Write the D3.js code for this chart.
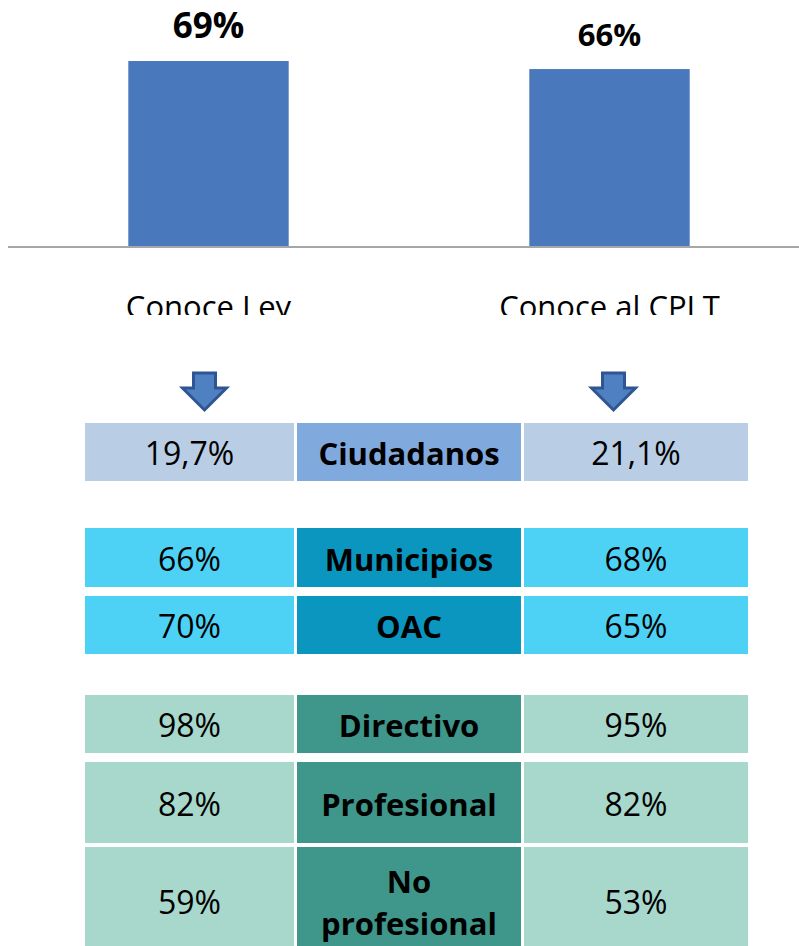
<!DOCTYPE html>
<html>
<head>
<meta charset="utf-8">
<script src="https://cdnjs.cloudflare.com/ajax/libs/d3/7.8.5/d3.min.js"></script>
<style>
  html, body { margin: 0; padding: 0; background: #fff; overflow: hidden; }
  svg { display: block; font-family: "Open Sans", sans-serif; }
</style>
</head>
<body>
<div id="chart"></div>
<script>
// Datos del gráfico de barras
let categories = ['Conoce Ley', 'Conoce al CPLT'];
let barValues = [69, 66];
let barLabels = ['69%', '66%'];

// Datos de la tabla
let rowLabels = ['Ciudadanos', 'Municipios', 'OAC', 'Directivo', 'Profesional', 'No profesional'];
let leyValues = ['19,7%', '66%', '70%', '98%', '82%', '59%'];
let cpltValues = ['21,1%', '68%', '65%', '95%', '82%', '53%'];
let rowGroups = [0, 1, 1, 2, 2, 2];

// Estilos / disposición
let labelSizes = [35, 31];
let groupColors = [
    {side: '#b9cde5', mid: '#80a9de'},
    {side: '#4dd2f5', mid: '#0a96bf'},
    {side: '#a8d7cb', mid: '#3e978a'}
];
let rowTops = [423, 528, 596, 695, 762, 847];
let rowBottoms = [481, 587, 654, 753, 843, 955];
let colBounds = [[85, 294], [297, 521], [524, 748]];

let width = 799, height = 946;

let svg = d3.select('#chart').append('svg')
    .attr('width', width)
    .attr('height', height);

//Recorte del gráfico superior
svg.append('defs').append('clipPath')
    .attr('id', 'chartClip')
    .append('rect')
    .attr('x', 0).attr('y', 0)
    .attr('width', width).attr('height', 315);

let chart = svg.append('g').attr('clip-path', 'url(#chartClip)');

//Eje X
let x = d3.scaleBand()
    .domain(categories)
    .range([8, 810])
    .paddingInner(0.6)
    .paddingOuter(0.3);

//Eje Y
let y = d3.scaleLinear()
    .domain([0, 100])
    .range([246, 246 - 268.1]);

//Barras
chart.selectAll('.bar')
    .data(categories)
    .enter()
    .append('rect')
    .attr('class', 'bar')
    .attr('x', d => x(d))
    .attr('width', x.bandwidth())
    .attr('y', (d, i) => y(barValues[i]))
    .attr('height', (d, i) => y(0) - y(barValues[i]))
    .style('fill', '#4a78bc');

//Línea base
chart.append('line')
    .attr('x1', 8).attr('x2', width)
    .attr('y1', y(0) + 1).attr('y2', y(0) + 1)
    .style('stroke', '#a6a6a6')
    .style('stroke-width', 2);

//Etiquetas de valor
chart.selectAll('.bar-label')
    .data(categories)
    .enter()
    .append('text')
    .attr('class', 'bar-label')
    .attr('x', d => x(d) + x.bandwidth() / 2)
    .attr('y', (d, i) => y(barValues[i]) - 23)
    .attr('text-anchor', 'middle')
    .style('font-weight', 'bold')
    .style('font-size', (d, i) => labelSizes[i] + 'px')
    .style('fill', '#000')
    .text((d, i) => barLabels[i]);

//Etiquetas de categoría
chart.selectAll('.cat-label')
    .data(categories)
    .enter()
    .append('text')
    .attr('class', 'cat-label')
    .attr('x', d => x(d) + x.bandwidth() / 2)
    .attr('y', 318)
    .attr('text-anchor', 'middle')
    .style('font-size', '31px')
    .style('fill', '#000')
    .text(d => d);

//Flechas
function arrowPath(c) {
    let top = 373, neck = 388, tip = 410;
    return `M${c - 11},${top} L${c + 11},${top} L${c + 11},${neck} L${c + 22},${neck} L${c},${tip} L${c - 22},${neck} L${c - 11},${neck} Z`;
}

svg.selectAll('.arrow')
    .data(categories)
    .enter()
    .append('path')
    .attr('class', 'arrow')
    .attr('d', (d, i) => arrowPath(x(d) + x.bandwidth() / 2 + (i == 0 ? -4 : 4)))
    .style('fill', '#4f80c2')
    .style('stroke', '#2f5593')
    .style('stroke-width', 3)
    .style('stroke-linejoin', 'miter');

//Tabla
let rows = svg.selectAll('.row')
    .data(rowLabels)
    .enter()
    .append('g')
    .attr('class', 'row');

rows.each(function(label, i) {
    let g = d3.select(this);
    let top = rowTops[i], bottom = rowBottoms[i];
    let colors = groupColors[rowGroups[i]];
    let cells = [
        {text: leyValues[i], fill: colors.side, bold: false},
        {text: label, fill: colors.mid, bold: true},
        {text: cpltValues[i], fill: colors.side, bold: false}
    ];
    let cy = (top + bottom) / 2;

    cells.forEach(function(c, j) {
        let b = colBounds[j];
        g.append('rect')
            .attr('x', b[0])
            .attr('y', top)
            .attr('width', b[1] - b[0])
            .attr('height', bottom - top)
            .style('fill', c.fill);

        let words = c.bold && c.text.indexOf(' ') > 0 ? c.text.split(' ') : [c.text];
        let lineH = 42;
        words.forEach(function(w, k) {
            g.append('text')
                .attr('x', (b[0] + b[1]) / 2)
                .attr('y', cy + 13 + (k - (words.length - 1) / 2) * lineH)
                .attr('text-anchor', 'middle')
                .style('font-size', c.bold ? '31px' : '32px')
                .style('font-weight', c.bold ? 'bold' : 'normal')
                .style('fill', '#000')
                .text(w);
        });
    });
});
</script>
</body>
</html>
